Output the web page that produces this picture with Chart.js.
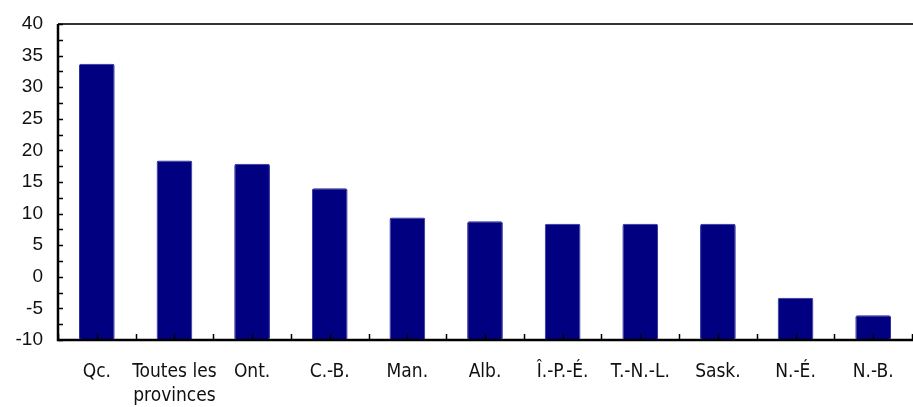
<!DOCTYPE html>
<html>
<head>
<meta charset="utf-8">
<script src="https://cdn.jsdelivr.net/npm/chart.js@4"></script>
<style>
  html, body { margin: 0; padding: 0; background: #fff; }
  canvas { display: block; }
</style>
</head>
<body>
<canvas id="chart" width="913" height="407"></canvas>
<script>
// =====================
// DATA
// =====================
const provinces = ["Qc.", ["Toutes les", "provinces"], "Ont.", "C.-B.", "Man.", "Alb.",
  "Î.-P.-É.", "T.-N.-L.", "Sask.", "N.-É.", "N.-B."];
const values = [33.7, 18.4, 17.9, 14.0, 9.4, 8.8, 8.4, 8.4, 8.4, -3.3, -6.1];
const yTicks = [-10, -5, 0, 5, 10, 15, 20, 25, 30, 35, 40];

// =====================
// FRAME + INWARD TICKS
// =====================
const framePlugin = {
  id: "frame",
  afterDatasetsDraw(chart) {
    const ctx = chart.ctx;
    const area = chart.chartArea;
    const y = chart.scales.y;
    ctx.save();

    // top line
    ctx.strokeStyle = "#333";
    ctx.lineWidth = 2;
    ctx.beginPath();
    ctx.moveTo(area.left, area.top);
    ctx.lineTo(chart.width, area.top);
    ctx.stroke();

    ctx.strokeStyle = "#000";
    ctx.lineWidth = 1.5;
    ctx.beginPath();
    // y minor ticks every 2.5
    for (let v = y.min; v <= y.max; v += 2.5) {
      const py = Math.round(y.getPixelForValue(v)) + 0.5;
      ctx.moveTo(area.left, py);
      ctx.lineTo(area.left + 5, py);
    }
    // x ticks at centres and boundaries
    const n = provinces.length;
    const step = (area.right - area.left) / n;
    for (let i = 0; i <= n * 2; i++) {
      const px = Math.round(area.left + i * step / 2) + 0.5;
      ctx.moveTo(px, area.bottom);
      ctx.lineTo(px, area.bottom - 6);
    }
    ctx.stroke();

    // axes
    ctx.lineWidth = 2.5;
    ctx.beginPath();
    ctx.moveTo(area.left, area.top);
    ctx.lineTo(area.left, area.bottom);
    ctx.lineTo(chart.width, area.bottom);
    ctx.stroke();
    ctx.restore();
  }
};

// =====================
// CHART
// =====================
new Chart(document.getElementById("chart"), {
  type: "bar",
  data: {
    labels: provinces,
    datasets: [{
      data: values,
      base: -10,
      backgroundColor: "#000080",
      borderColor: "#2a2a9a",
      borderWidth: 1,
      borderRadius: 2,
      borderSkipped: false,
      categoryPercentage: 1,
      barPercentage: 0.46
    }]
  },
  options: {
    responsive: false,
    animation: false,
    layout: { padding: { top: 24, right: 1, left: 0, bottom: 0 } },
    plugins: {
      legend: { display: false },
      tooltip: { enabled: false }
    },
    scales: {
      x: {
        grid: { display: false },
        border: { display: false },
        ticks: {
          color: "#111",
          padding: 12,
          maxRotation: 0,
          autoSkip: false,
          font: { family: "DejaVu Sans", weight: "condensed", size: 19, lineHeight: 1.25 }
        },
        afterFit(scale) { scale.height = 67; }
      },
      y: {
        min: -10,
        max: 40,
        afterBuildTicks(scale) { scale.ticks = yTicks.map(v => ({ value: v })); },
        grid: { display: false },
        border: { display: false },
        ticks: {
          color: "#111",
          padding: 7,
          font: { family: "'Liberation Sans', Arial, sans-serif", size: 19 }
        },
        afterFit(scale) { scale.width = 58; }
      }
    }
  },
  plugins: [framePlugin]
});
</script>
</body>
</html>
